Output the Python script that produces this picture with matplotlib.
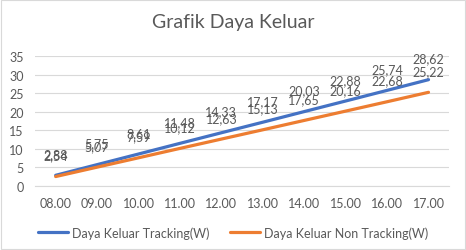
import matplotlib.pyplot as plt
from matplotlib.patches import Rectangle

jam = ['08.00', '09.00', '10.00', '11.00', '12.00', '13.00', '14.00', '15.00', '16.00', '17.00']
tracking = [2.88, 5.75, 8.61, 11.48, 14.33, 17.17, 20.03, 22.88, 25.74, 28.62]
non_tracking = [2.54, 5.07, 7.59, 10.12, 12.63, 15.13, 17.65, 20.16, 22.68, 25.22]

plt.rcParams['font.family'] = ['Lato', 'DejaVu Sans']
txt = '#595959'
blue = '#4472C4'
orange = '#ED7D31'

fig = plt.figure(figsize=(4.66, 2.51), dpi=100)
ax = fig.add_axes([0.075, 0.255, 0.889, 0.518])
x = list(range(len(jam)))

ax.plot(x, tracking, color=blue, lw=2.3, label='Daya Keluar Tracking(W)', solid_capstyle='round')
ax.plot(x, non_tracking, color=orange, lw=2.3, label='Daya Keluar Non Tracking(W)', solid_capstyle='round')

for i in x:
    ax.annotate(f'{tracking[i]:.2f}'.replace('.', ','), (i, tracking[i]), xytext=(0, 11),
                textcoords='offset points', ha='center', va='bottom', fontsize=9, color=txt)
    ax.annotate(f'{non_tracking[i]:.2f}'.replace('.', ','), (i, non_tracking[i]), xytext=(0, 11),
                textcoords='offset points', ha='center', va='bottom', fontsize=9, color=txt)

ax.set_xlim(-0.5, len(jam) - 0.5)
ax.set_ylim(0, 35)
ax.set_yticks(range(0, 36, 5))
ax.set_xticks(x)
ax.set_xticklabels(jam)
ax.grid(axis='y', color='#D9D9D9', lw=0.8)
ax.set_axisbelow(True)
for s in ['top', 'right', 'left']:
    ax.spines[s].set_visible(False)
ax.spines['bottom'].set_color('#D9D9D9')
ax.tick_params(length=0, colors=txt, labelsize=9)
ax.tick_params(axis='x', pad=8)
ax.tick_params(axis='y', pad=8)

fig.text(0.5, 0.91, 'Grafik Daya Keluar', ha='center', va='center', fontsize=14, color=txt)
fig.legend(loc='center', bbox_to_anchor=(0.5, 0.07), ncol=2, frameon=False, fontsize=9,
           labelcolor=txt, handlelength=2.4, handletextpad=0.3, columnspacing=1.7)

fig.patches.append(Rectangle((0.002, 0.004), 0.995, 0.992, transform=fig.transFigure,
                             fill=False, edgecolor='#D9D9D9', lw=0.8))
fig.savefig('out.png', dpi=100)
